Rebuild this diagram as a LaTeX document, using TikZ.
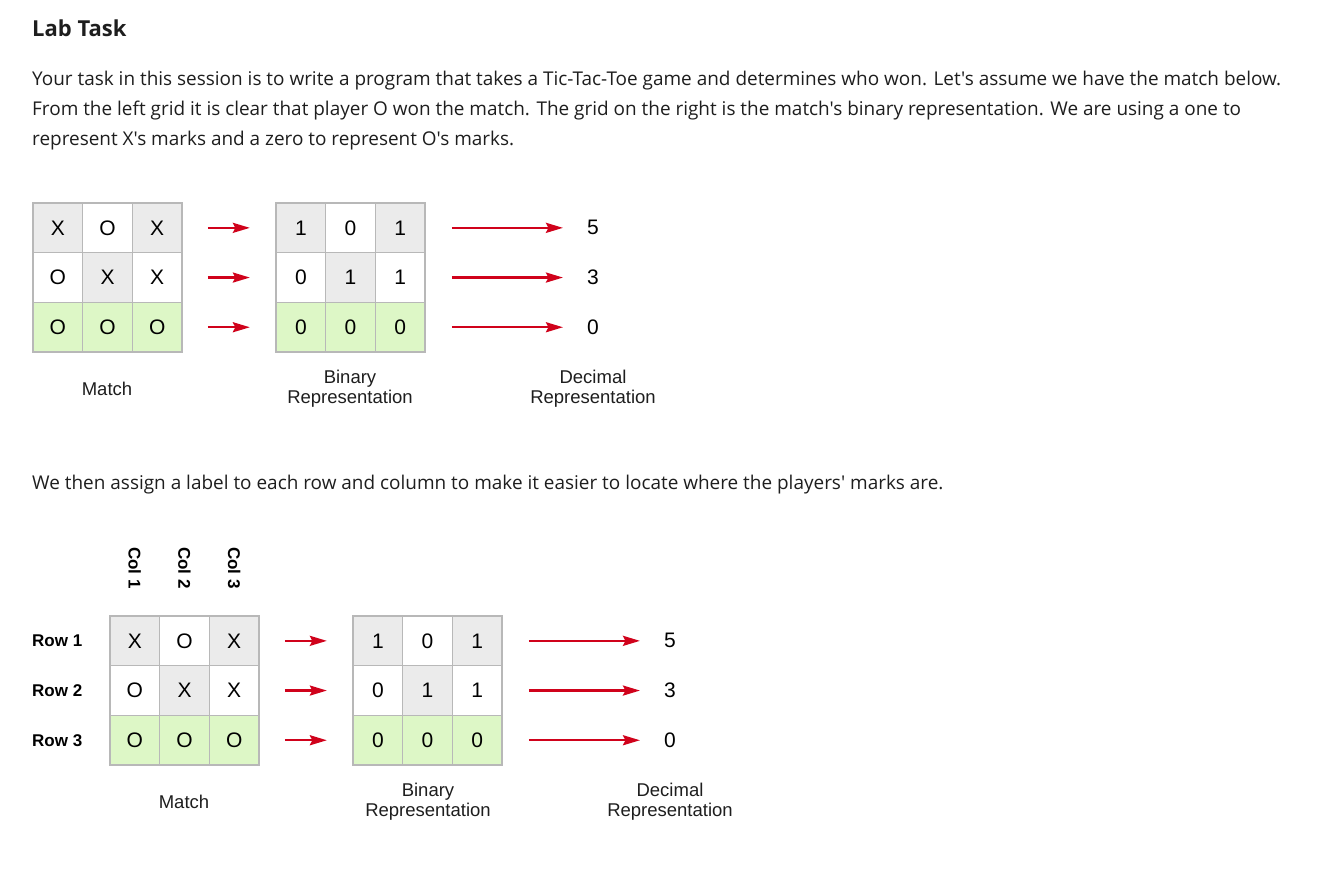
\documentclass[tikz,border=0pt]{standalone}
\usepackage{fontspec}
\setmainfont{Liberation Sans}
\newfontfamily\bodyfont{Open Sans}
\usetikzlibrary{arrows.meta}
\definecolor{cellgray}{HTML}{EBEBEB}
\definecolor{cellgreen}{HTML}{DDF7C6}
\definecolor{gridline}{HTML}{B8B8B8}
\definecolor{arrred}{HTML}{D0021B}
\definecolor{txt}{HTML}{1E1E1E}
\tikzset{
  cell/.style={draw=gridline, line width=1.3pt, minimum size=49.7pt, inner sep=0pt, text=black, font=\fontsize{21}{21}\selectfont},
  gr/.style={fill=cellgray}, wh/.style={fill=white}, gn/.style={fill=cellgreen},
  arr/.style={draw=arrred, line width=2.4pt, -{Stealth[length=17pt,width=10pt,inset=2.5pt]}},
  sharr/.style={arr, shorten <=25pt, shorten >=25.5pt},
  lgarr/.style={arr, shorten <=26pt, shorten >=24pt},
  numlab/.style={inner sep=0pt, font=\fontsize{21}{21}\selectfont},
  caption/.style={align=center, font=\fontsize{18.5}{20}\selectfont, text=txt},
  bodytext/.style={anchor=base west, inner sep=0pt, text=txt, font=\bodyfont\fontsize{18.95}{20}\selectfont},
  rowlab/.style={inner sep=0pt, font=\bfseries\fontsize{17}{17}\selectfont},
}
\begin{document}
\begin{tikzpicture}[x=1pt,y=-1pt]
\useasboundingbox (0,0) rectangle (1319,869);
\fill[white] (0,0) rectangle (1319,869);

\node[anchor=base west, inner sep=0pt, text=txt, font=\bodyfont\bfseries\fontsize{22}{24}\selectfont] (title) at (32,37) {Lab Task};
\node[bodytext] (p1) at (32,86) {Your task in this session is to write a program that takes a Tic-Tac-Toe game and determines who won. Let's assume we have the match below.};
\node[bodytext] (p2) at (32,116) {From the left grid it is clear that player O won the match. The grid on the right is the match's binary representation. We are using a one to};
\node[bodytext] (p3) at (32,146) {represent X's marks and a zero to represent O's marks.};
\node[bodytext] (p4) at (32,489) {We then assign a label to each row and column to make it easier to locate where the players' marks are.};

% ---------- top diagram ----------
\foreach \r/\c/\t/\f in {1/1/X/gr,1/2/O/wh,1/3/X/gr,2/1/O/wh,2/2/X/gr,2/3/X/wh,3/1/O/gn,3/2/O/gn,3/3/O/gn}
  \node[cell,\f] (ma\r\c) at ({33+(\c-0.5)*49.7},{203+(\r-0.5)*49.7}) {\t};
\foreach \r/\c/\t/\f in {1/1/1/gr,1/2/0/wh,1/3/1/gr,2/1/0/wh,2/2/1/gr,2/3/1/wh,3/1/0/gn,3/2/0/gn,3/3/0/gn}
  \node[cell,\f] (ba\r\c) at ({276+(\c-0.5)*49.7},{203+(\r-0.5)*49.7}) {\t};
\foreach \r/\v in {1/5,2/3,3/0}
  \node[numlab] (da\r) at (593,{203+(\r-0.5)*49.7}) {\v};
\foreach \r in {1,2,3} {
  \draw[sharr] (ma\r3.east) -- (ba\r1.west);
  \draw[lgarr] (ba\r3.east) -- (da\r.west);
}
\node[caption] (capma) at (107,389) {Match};
\node[caption] (capba) at (350,389) {Binary\\Representation};
\node[caption] (capda) at (593,389) {Decimal\\Representation};

% ---------- bottom diagram ----------
\foreach \r/\c/\t/\f in {1/1/X/gr,1/2/O/wh,1/3/X/gr,2/1/O/wh,2/2/X/gr,2/3/X/wh,3/1/O/gn,3/2/O/gn,3/3/O/gn}
  \node[cell,\f] (mb\r\c) at ({110+(\c-0.5)*49.7},{616+(\r-0.5)*49.7}) {\t};
\foreach \r/\c/\t/\f in {1/1/1/gr,1/2/0/wh,1/3/1/gr,2/1/0/wh,2/2/1/gr,2/3/1/wh,3/1/0/gn,3/2/0/gn,3/3/0/gn}
  \node[cell,\f] (bb\r\c) at ({353+(\c-0.5)*49.7},{616+(\r-0.5)*49.7}) {\t};
\foreach \r/\v in {1/5,2/3,3/0}
  \node[numlab] (db\r) at (670,{616+(\r-0.5)*49.7}) {\v};
\foreach \r in {1,2,3} {
  \draw[sharr] (mb\r3.east) -- (bb\r1.west);
  \draw[lgarr] (bb\r3.east) -- (db\r.west);
  \node[rowlab, anchor=west] (row\r) at (32,{641+(\r-1)*50}) {Row \r};
  \node[rowlab, rotate=-90] (col\r) at ({134.8+(\r-1)*49.7},568) {Col \r};
}
\node[caption] (capmb) at (184,802) {Match};
\node[caption] (capbb) at (428,802) {Binary\\Representation};
\node[caption] (capdb) at (670,802) {Decimal\\Representation};
\end{tikzpicture}
\end{document}
